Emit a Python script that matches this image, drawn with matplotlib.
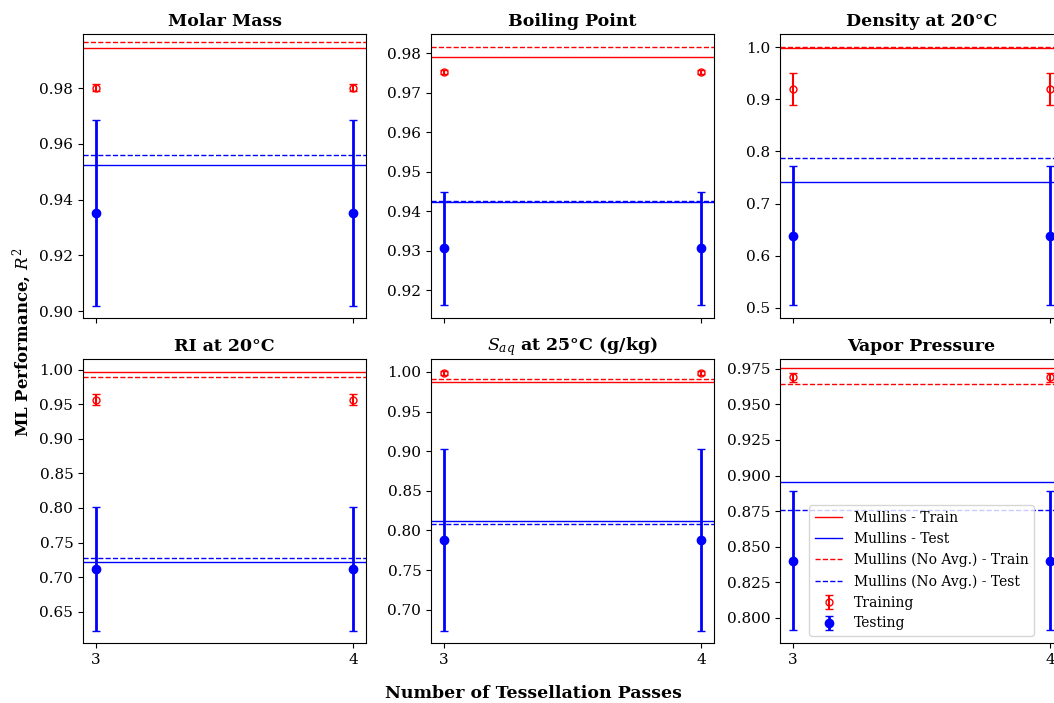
import matplotlib
matplotlib.use("Agg")
import matplotlib.pyplot as plt

plt.rcParams['font.family'] = 'DejaVu Serif'
plt.rcParams['mathtext.fontset'] = 'dejavuserif'

# one entry per property panel
titles = ["Molar Mass", "Boiling Point", "Density at 20°C",
          "RI at 20°C", r"$S_{aq}$ at 25°C (g/kg)", "Vapor Pressure"]
passes = [3, 4]

train_mean = [0.9802, 0.9753, 0.9194, 0.9566, 0.9987, 0.9689]
train_err = [0.0012, 0.0006, 0.031, 0.008, 0.002, 0.003]
test_mean = [0.9352, 0.9306, 0.6386, 0.7120, 0.7883, 0.8402]
test_err = [0.0333, 0.0142, 0.134, 0.0895, 0.115, 0.0488]

mullins_train = [0.9945, 0.9792, 0.9995, 0.9961, 0.9878, 0.9752]
mullins_test = [0.9525, 0.9423, 0.7410, 0.7217, 0.8119, 0.8952]
noavg_train = [0.9968, 0.9815, 1.0000, 0.9894, 0.9912, 0.9645]
noavg_test = [0.9562, 0.9427, 0.7883, 0.7275, 0.8085, 0.8758]

ylims = [(0.8975, 0.9995), (0.9130, 0.9849), (0.4802, 1.0256),
         (0.6047, 1.0155), (0.6580, 1.0164), (0.7824, 0.9818)]

W, H = 1054, 703
fig = plt.figure(figsize=(W / 100, H / 100), dpi=100)

lefts = [83, 431, 780]
tops = [34, 359]
aw, ah = 283, 284

for i in range(6):
    r, c = divmod(i, 3)
    ax = fig.add_axes([lefts[c] / W, 1 - (tops[r] + ah) / H, aw / W, ah / H])
    ax.axhline(mullins_train[i], color='red', lw=1, label='Mullins - Train')
    ax.axhline(mullins_test[i], color='blue', lw=1, label='Mullins - Test')
    ax.axhline(noavg_train[i], color='red', lw=1, ls='--', label='Mullins (No Avg.) - Train')
    ax.axhline(noavg_test[i], color='blue', lw=1, ls='--', label='Mullins (No Avg.) - Test')
    ax.errorbar(passes, [train_mean[i]] * 2, yerr=[train_err[i]] * 2, fmt='o',
                color='red', mfc='none', ms=5, elinewidth=1.5, capsize=3,
                label='Training')
    ax.errorbar(passes, [test_mean[i]] * 2, yerr=[test_err[i]] * 2, fmt='o',
                color='blue', ms=6, elinewidth=2, capsize=3, label='Testing')
    ax.set_ylim(*ylims[i])
    ax.set_xticks(passes)
    if r == 0:
        ax.set_xticklabels([])
    ax.tick_params(labelsize=11)
    ax.set_title(titles[i], fontsize=12.5, fontweight='bold')
    if i == 5:
        ax.legend(loc='lower center', fontsize=10)

fig.text(0.021, 0.5135, r"ML Performance, $R^2$", rotation=90, fontsize=12,
         fontweight='bold', ha='center', va='center')
fig.text(0.506, 0.014, "Number of Tessellation Passes", fontsize=12.5,
         fontweight='bold', ha='center', va='center')

fig.savefig("out.png", dpi=100)
